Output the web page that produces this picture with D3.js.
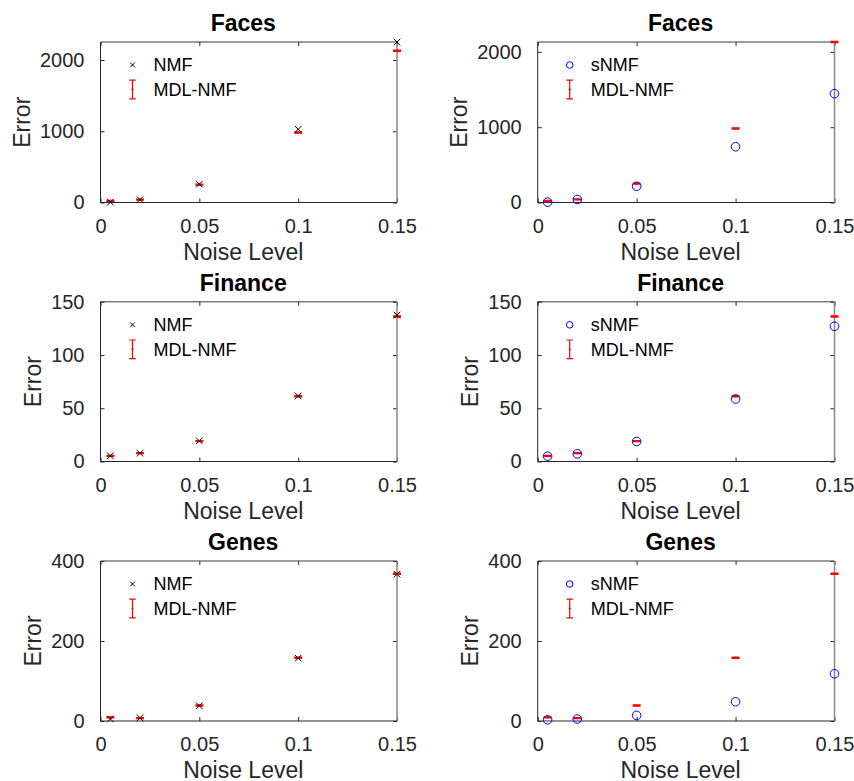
<!DOCTYPE html>
<html>
<head>
<meta charset="utf-8">
<script src="https://cdn.jsdelivr.net/npm/d3@7/dist/d3.min.js"></script>
<style>
  body { margin: 0; background: #fff; }
  text { font-family: "Liberation Sans", Arial, sans-serif; }
</style>
</head>
<body>
<div id="chart"></div>
<script>
// Noise level (x) shared by every panel
const noiseLevels = [0.005, 0.02, 0.05, 0.1, 0.15];
const xTicks = [0, 0.05, 0.1, 0.15];

// Faces
const facesNMF = [5, 40, 258, 1028, 2253];
const facesSNMF = [5, 40, 215, 740, 1445];
const facesMDL = [22, 40, 250, 982, 2131];
const facesMDLErr = [5, 5, 6, 7, 7];
const facesTicks = [0, 1000, 2000];

// Finance
const financeNMF = [5.3, 7.8, 19.4, 61.6, 137.5];
const financeSNMF = [5, 7.2, 18.8, 58.7, 127];
const financeMDL = [5.3, 7.8, 19.2, 61.2, 136.2];
const financeMDLErr = [0.35, 0.35, 0.4, 0.45, 0.45];
const financeTicks = [0, 50, 100, 150];

// Genes
const genesNMF = [5, 8, 38, 157, 367];
const genesSNMF = [3, 5, 14, 48, 118];
const genesMDL = [9, 7, 39, 158, 368];
const genesMDLErr = [1, 1, 1.2, 1.3, 1.3];
const genesTicks = [0, 200, 400];

const W = 854, H = 781;
const colX = [[100.5, 397], [537.7, 834.5]];
const rowY = [[42, 202.5], [301.8, 461.5], [561, 721]];
const INK = '#262626';

const panels = [
  { title: 'Faces', row: 0, col: 0, ymax: 2253, yticks: facesTicks, name: 'NMF', mark: 'x', vals: facesNMF, mdl: facesMDL, err: facesMDLErr },
  { title: 'Faces', row: 0, col: 1, ymax: 2131, yticks: facesTicks, name: 'sNMF', mark: 'o', vals: facesSNMF, mdl: facesMDL, err: facesMDLErr },
  { title: 'Finance', row: 1, col: 0, ymax: 150, yticks: financeTicks, name: 'NMF', mark: 'x', vals: financeNMF, mdl: financeMDL, err: financeMDLErr },
  { title: 'Finance', row: 1, col: 1, ymax: 150, yticks: financeTicks, name: 'sNMF', mark: 'o', vals: financeSNMF, mdl: financeMDL, err: financeMDLErr },
  { title: 'Genes', row: 2, col: 0, ymax: 400, yticks: genesTicks, name: 'NMF', mark: 'x', vals: genesNMF, mdl: genesMDL, err: genesMDLErr },
  { title: 'Genes', row: 2, col: 1, ymax: 400, yticks: genesTicks, name: 'sNMF', mark: 'o', vals: genesSNMF, mdl: genesMDL, err: genesMDLErr }
];

const svg = d3.select('#chart').append('svg')
  .attr('width', W).attr('height', H);
svg.append('rect').attr('width', W).attr('height', H).attr('fill', '#fff');

function drawCross(g, cx, cy, h) {
  g.append('path')
    .attr('d', `M${cx - h},${cy - h}L${cx + h},${cy + h}M${cx - h},${cy + h}L${cx + h},${cy - h}`)
    .attr('stroke', '#000').attr('stroke-width', 1).attr('fill', 'none');
}

function drawErrorBar(g, cx, yLo, yHi, cy, capW, sw) {
  g.append('path')
    .attr('d', `M${cx},${yLo}L${cx},${yHi}M${cx - capW / 2},${yLo}L${cx + capW / 2},${yLo}M${cx - capW / 2},${yHi}L${cx + capW / 2},${yHi}`)
    .attr('stroke', '#ff0000').attr('stroke-width', sw).attr('fill', 'none');
  g.append('circle').attr('cx', cx).attr('cy', cy).attr('r', 1.1).attr('fill', '#ff0000');
}

panels.forEach(p => {
  const [x0, x1] = colX[p.col];
  const [y0, y1] = rowY[p.row];
  const x = d3.scaleLinear().domain([0, 0.15]).range([x0, x1]);
  const y = d3.scaleLinear().domain([0, p.ymax]).range([y1, y0]);
  const g = svg.append('g');

  // ticks (inward, all four sides)
  const fmt = d => String(d);
  const bottom = g.append('g').attr('transform', `translate(0,${y1})`)
    .call(d3.axisBottom(x).tickValues(xTicks).tickSize(-4).tickPadding(16).tickFormat(fmt));
  const left = g.append('g').attr('transform', `translate(${x0},0)`)
    .call(d3.axisLeft(y).tickValues(p.yticks).tickSize(-4).tickPadding(16).tickFormat(fmt));
  g.append('g').attr('transform', `translate(0,${y0})`)
    .call(d3.axisTop(x).tickValues(xTicks).tickSize(-4).tickFormat(''));
  g.append('g').attr('transform', `translate(${x1},0)`)
    .call(d3.axisRight(y).tickValues(p.yticks).tickSize(-4).tickFormat(''));
  g.selectAll('.domain').remove();
  g.selectAll('.tick line').attr('stroke', INK);
  [bottom, left].forEach(a => a.selectAll('text')
    .attr('font-size', 20).attr('fill', INK)
    .attr('font-family', '"Liberation Sans", Arial, sans-serif'));

  // box
  g.append('path').attr('d', `M${x0},${y0}L${x1},${y0}`).attr('stroke', '#3a3a3a').attr('stroke-width', 1);
  g.append('path').attr('d', `M${x1},${y0}L${x1},${y1}`).attr('stroke', '#888').attr('stroke-width', 1.5);
  g.append('path').attr('d', `M${x0},${y0}L${x0},${y1}L${x1},${y1}`).attr('stroke', INK).attr('stroke-width', 1).attr('fill', 'none');

  // labels
  const cx = (x0 + x1) / 2 - 5.5;
  g.append('text').attr('x', cx).attr('y', y0 - 11)
    .attr('text-anchor', 'middle').attr('font-size', 23).attr('font-weight', 'bold')
    .attr('fill', '#000').text(p.title);
  g.append('text').attr('x', cx).attr('y', y1 + 57)
    .attr('text-anchor', 'middle').attr('font-size', 23).attr('fill', INK).text('Noise Level');
  let tw = 0;
  left.selectAll('text').each(function () { tw = Math.max(tw, this.getComputedTextLength()); });
  const lx = x0 - 16 - tw - 18.5;
  g.append('text').attr('transform', `translate(${lx},${(y0 + y1) / 2}) rotate(-90)`)
    .attr('dy', '0.36em').attr('text-anchor', 'middle').attr('font-size', 23)
    .attr('fill', INK).text('Error');

  // data: MDL-NMF error bars
  noiseLevels.forEach((n, i) => {
    const px = x(n);
    drawErrorBar(g, px, y(p.mdl[i] - p.err[i]), y(p.mdl[i] + p.err[i]), y(p.mdl[i]), 8, 1.5);
  });
  // data: NMF crosses / sNMF circles
  noiseLevels.forEach((n, i) => {
    if (p.mark === 'x') drawCross(g, x(n), y(p.vals[i]), 3.3);
    else g.append('circle').attr('cx', x(n)).attr('cy', y(p.vals[i])).attr('r', 4.3)
      .attr('fill', 'none').attr('stroke', '#0000ff').attr('stroke-width', 1);
  });

  // legend (no box)
  const mx = x0 + 32, tx = x0 + 53;
  const r1 = y0 + 23, r2 = y0 + 47.5;
  if (p.mark === 'x') drawCross(g, mx, r1, 2.4);
  else g.append('circle').attr('cx', mx).attr('cy', r1).attr('r', 3.3)
    .attr('fill', 'none').attr('stroke', '#0000ff').attr('stroke-width', 1);
  drawErrorBar(g, mx, r2 + 9.3, r2 - 9.3, r2, 6.5, 1.2);
  g.append('text').attr('x', tx).attr('y', r1).attr('dy', '0.35em')
    .attr('font-size', 18).attr('fill', '#000').text(p.name);
  g.append('text').attr('x', tx).attr('y', r2).attr('dy', '0.35em')
    .attr('font-size', 18).attr('fill', '#000').text('MDL-NMF');
});
</script>
</body>
</html>
